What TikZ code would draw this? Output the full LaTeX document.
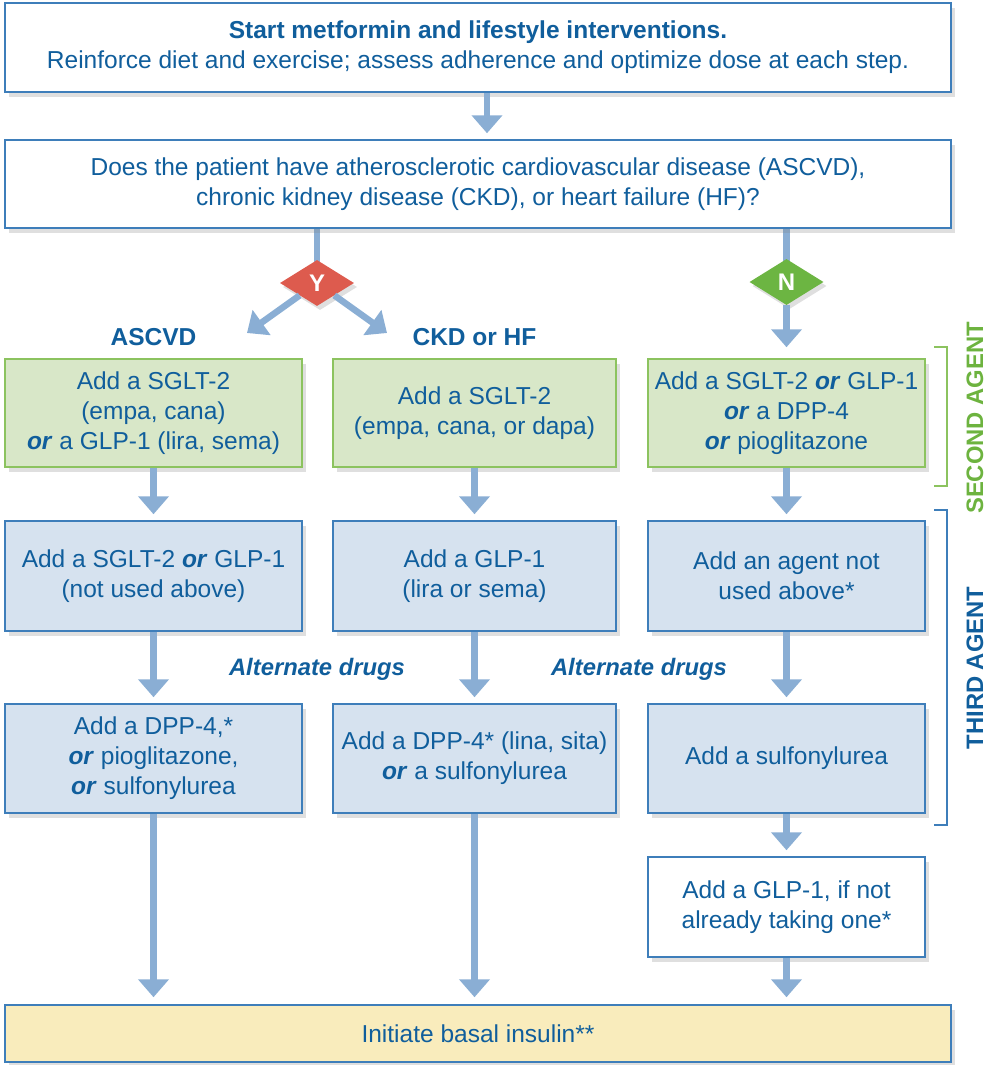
\documentclass[tikz,border=0pt]{standalone}
\usepackage{fontspec}
\setmainfont{Liberation Sans}
\usetikzlibrary{shapes.geometric,arrows.meta,shadows,backgrounds}
\definecolor{txtblue}{RGB}{16,94,156}
\definecolor{bordblue}{RGB}{62,126,186}
\definecolor{arrblue}{RGB}{138,174,212}
\definecolor{gfill}{RGB}{216,231,200}
\definecolor{gbord}{RGB}{140,195,95}
\definecolor{bfill}{RGB}{214,226,239}
\definecolor{yfill}{RGB}{249,236,188}
\definecolor{ydiam}{RGB}{221,91,78}
\definecolor{ndiam}{RGB}{108,181,66}
\definecolor{glabel}{RGB}{109,179,63}
\tikzset{
  box/.style={draw=bordblue, line width=1.5pt, fill=white, text=txtblue, align=center,
    inner sep=0pt, font=\fontsize{24.5}{30}\selectfont,
    drop shadow={opacity=0.25, shadow xshift=4pt, shadow yshift=-5pt}},
  gbox/.style={box, draw=gbord, fill=gfill},
  bbox/.style={box, fill=bfill},
  ybox/.style={box, fill=yfill},
  wbox/.style={box},
  arr/.style={draw=arrblue, line width=6.5pt, -{Triangle[width=30pt,length=18pt]}},
  stem/.style={draw=arrblue, line width=6.5pt},
  diam/.style={diamond, minimum width=74pt, minimum height=46pt, inner sep=0pt, text=white,
    font=\fontsize{24}{24}\selectfont\bfseries,
    drop shadow={opacity=0.25, shadow xshift=3pt, shadow yshift=-4pt}},
  hdr/.style={text=txtblue, font=\fontsize{24.5}{28}\selectfont\bfseries},
  alt/.style={text=txtblue, font=\fontsize{23.8}{28}\selectfont\bfseries\itshape},
  side/.style={font=\fontsize{23.8}{28}\selectfont\bfseries, rotate=90},
}
\newcommand{\orr}{\textbf{\textit{or}}}
\begin{document}
\begin{tikzpicture}[x=1pt,y=-1pt]
\useasboundingbox (0,0) rectangle (996,1065);
% boxes
\node[box, minimum width=946pt, minimum height=89pt] (top) at (478,47.5)
  {\textbf{Start metformin and lifestyle interventions.}\\Reinforce diet and exercise; assess adherence and optimize dose at each step.};
\node[box, minimum width=946pt, minimum height=88pt] (q) at (478,184)
  {Does the patient have atherosclerotic cardiovascular disease (ASCVD),\\chronic kidney disease (CKD), or heart failure (HF)?};
\node[diam, fill=ydiam] (Y) at (317,283) {Y};
\node[diam, fill=ndiam] (N) at (786.5,282) {N};
\node[hdr] (hA) at (153.5,337) {ASCVD};
\node[hdr] (hC) at (474.5,337) {CKD or HF};
% second agent row
\node[gbox, minimum width=297pt, minimum height=108pt] (g1) at (153.5,413)
  {Add a SGLT-2\\(empa, cana)\\\orr{} a GLP-1 (lira, sema)};
\node[gbox, minimum width=283pt, minimum height=108pt] (g2) at (474.5,413)
  {Add a SGLT-2\\(empa, cana, or dapa)};
\node[gbox, minimum width=277pt, minimum height=108pt] (g3) at (786.5,413)
  {Add a SGLT-2 \orr{} GLP-1\\\orr{} a DPP-4\\\orr{} pioglitazone};
% third agent row 1
\node[bbox, minimum width=297pt, minimum height=110pt] (b1) at (153.5,576)
  {Add a SGLT-2 \orr{} GLP-1\\(not used above)};
\node[bbox, minimum width=283pt, minimum height=110pt] (b2) at (474.5,576)
  {Add a GLP-1\\(lira or sema)};
\node[bbox, minimum width=277pt, minimum height=110pt] (b3) at (786.5,576)
  {Add an agent not\\used above*};
\node[alt] (alt1) at (317,669) {Alternate drugs};
\node[alt] (alt2) at (639,669) {Alternate drugs};
% third agent row 2
\node[bbox, minimum width=297pt, minimum height=109pt] (c1) at (153.5,758.5)
  {Add a DPP-4,*\\\orr{} pioglitazone,\\\orr{} sulfonylurea};
\node[bbox, minimum width=283pt, minimum height=109pt] (c2) at (474.5,758.5)
  {Add a DPP-4* (lina, sita)\\\orr{} a sulfonylurea};
\node[bbox, minimum width=277pt, minimum height=109pt] (c3) at (786.5,758.5)
  {Add a sulfonylurea};
\node[wbox, minimum width=277pt, minimum height=100pt] (d3) at (786.5,907)
  {Add a GLP-1, if not\\already taking one*};
\node[ybox, minimum width=946pt, minimum height=57pt] (ins) at (478,1033.5)
  {Initiate basal insulin**};
% connectors
\coordinate (ax) at (487,0);
\draw[arr, shorten >=6pt] (top.south -| ax) -- (q.north -| ax);
\begin{scope}[on background layer]
\draw[stem] (q.south -| Y) -- (Y.center);
\draw[stem] (q.south -| N) -- (N.center);
\end{scope}
\coordinate (tL) at (247,333);
\coordinate (tR) at (387,333);
\draw[arr] (Y) -- (tL);
\draw[arr] (Y) -- (tR);
\draw[arr, shorten >=11pt] (N) -- (g3);
\foreach \a/\b in {g1/b1,g2/b2,g3/b3,b1/c1,b2/c2,b3/c3,c3/d3}{
  \draw[arr, shorten >=6pt] (\a.south) -- (\b.north);
}
\draw[arr, shorten >=7pt] (c1.south) -- (ins.north -| c1);
\draw[arr, shorten >=7pt] (c2.south) -- (ins.north -| c2);
\draw[arr, shorten >=7pt] (d3.south) -- (ins.north -| d3);
% side brackets
\draw[gbord, line width=1.5pt] (934,347) -- (947,347) -- (947,486) -- (934,486);
\draw[bordblue, line width=1.5pt] (934,510) -- (947,510) -- (947,825) -- (934,825);
\node[side, text=glabel] (sa) at (975,418) {SECOND AGENT};
\node[side, text=txtblue] (ta) at (975,668) {THIRD AGENT};
\end{tikzpicture}
\end{document}
